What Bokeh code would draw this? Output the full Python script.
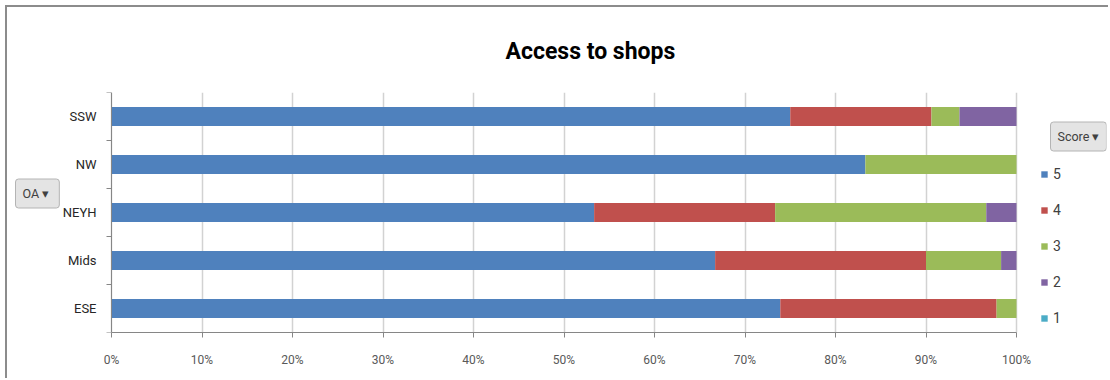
from bokeh.plotting import figure
from bokeh.models import (ColumnDataSource, Range1d, FixedTicker, PrintfTickFormatter,
                          Legend, LegendItem, Label)
from bokeh.embed import file_html
from bokeh.resources import INLINE

# ---- data ----
regions = ["ESE", "Mids", "NEYH", "NW", "SSW"]
score5 = [73.9, 66.7, 53.33, 83.3, 75.0]
score4 = [23.9, 23.3, 20.0, 0.0, 15.6]
score3 = [2.2, 8.3, 23.33, 16.7, 3.1]
score2 = [0.0, 1.7, 3.34, 0.0, 6.3]
score1 = [0.0, 0.0, 0.0, 0.0, 0.0]
score_names = ["5", "4", "3", "2", "1"]
colors = ["#4F81BD", "#C0504D", "#9BBB59", "#8064A2", "#4BACC6"]
x_ticks = [0, 10, 20, 30, 40, 50, 60, 70, 80, 90, 100]

FONT = "Roboto"


def setp(obj, **kw):
    for k, v in kw.items():
        if hasattr(obj, k):
            try:
                setattr(obj, k, v)
            except Exception:
                pass


# ---- layout numbers (pixels) ----
W, H = 1108, 378
AXIS_X, TOP, BOTTOM_Y, RIGHT_PAD = 111, 92, 332, 2
PX_100 = 1016 - 111          # pixel length of 0..100 %
frame_w = W - RIGHT_PAD
x_start = -100.0 * AXIS_X / PX_100
x_end = 100.0 * (frame_w - AXIS_X) / PX_100

pos = [i + 0.5 for i in range(len(regions))]
source = ColumnDataSource(dict(pos=pos, s5=score5, s4=score4, s3=score3, s2=score2, s1=score1))

p = figure(width=W, height=H, output_backend="svg", toolbar_location=None,
           x_range=Range1d(x_start, x_end), y_range=Range1d(0, len(regions)),
           min_border_left=0, min_border_right=RIGHT_PAD, min_border_top=TOP,
           min_border_bottom=H - BOTTOM_Y)
p.outline_line_color = None
p.background_fill_alpha = 0.0
p.border_fill_alpha = 0.0
p.styles = {"box-shadow": "inset 5px 5px 0 0 white, inset 7px 7px 0 0 #8c8c8c",
            "background-color": "white"}

renderers = p.hbar_stack(["s5", "s4", "s3", "s2", "s1"], y="pos", height=0.4,
                         color=colors, source=source, line_width=0)

# title
p.title.text = "Access to shops"
p.title.align = "left"
p.title.offset = 505
p.title.standoff = 56
p.title.text_font = FONT
p.title.text_font_size = "23px"
p.title.text_font_style = "bold"
p.title.text_color = "black"

# x axis
xa = p.xaxis[0]
xa.ticker = FixedTicker(ticks=x_ticks)
xa.formatter = PrintfTickFormatter(format="%d%%")
xa.bounds = (0, 100)
xa.axis_line_color = "#868686"
xa.major_tick_line_color = "#868686"
xa.major_tick_out = 5
xa.major_tick_in = 0
xa.minor_tick_line_color = None
xa.major_label_standoff = 15
xa.major_label_text_font = FONT
xa.major_label_text_font_size = "12px"
xa.major_label_text_color = "#595959"

# y axis, drawn at the 0 % line
ya = p.yaxis[0]
ya.fixed_location = 0
ya.ticker = FixedTicker(ticks=pos, minor_ticks=list(range(len(regions) + 1)))
ya.major_label_overrides = {pp: r for pp, r in zip(pos, regions)}
ya.axis_line_color = "#868686"
ya.major_tick_line_color = None
ya.major_tick_out = 0
ya.major_tick_in = 0
ya.minor_tick_line_color = "#868686"
ya.minor_tick_out = 5
ya.minor_tick_in = 0
ya.major_label_standoff = 10
ya.major_label_text_font = FONT
ya.major_label_text_font_size = "13px"
ya.major_label_text_color = "#262626"

p.xgrid.grid_line_color = "#d2d2d2"
p.xgrid.grid_line_width = 1.5
p.xgrid.bounds = (0, 100)
p.ygrid.grid_line_color = None

# legend (right of the 100 % line)
items = [LegendItem(label=n, renderers=[r]) for n, r in zip(score_names, renderers)]
legend = Legend(items=items, location=(1040, 4), padding=0, margin=0, spacing=16,
                label_height=20, glyph_height=8, glyph_width=8, label_standoff=5,
                label_text_font=FONT, label_text_font_size="14px", label_text_color="#404040",
                border_line_color=None, background_fill_alpha=0)
p.add_layout(legend)

# the filter buttons
for txt, bx, by in [("Score \u25BE", 1050, 136), ("OA  \u25BE", 15, 193)]:
    btn = Label(x=bx, y=BOTTOM_Y - by, x_units="screen", y_units="screen",
                text=txt, text_align="left", text_baseline="middle",
                text_font=FONT, text_font_size="12.5px", text_color="#404040",
                background_fill_color="#e4e4e4", border_line_color="#b4b4b4")
    setp(btn, padding=7, border_radius=3)
    p.add_layout(btn)

open("out.html", "w").write(file_html(p, INLINE))
